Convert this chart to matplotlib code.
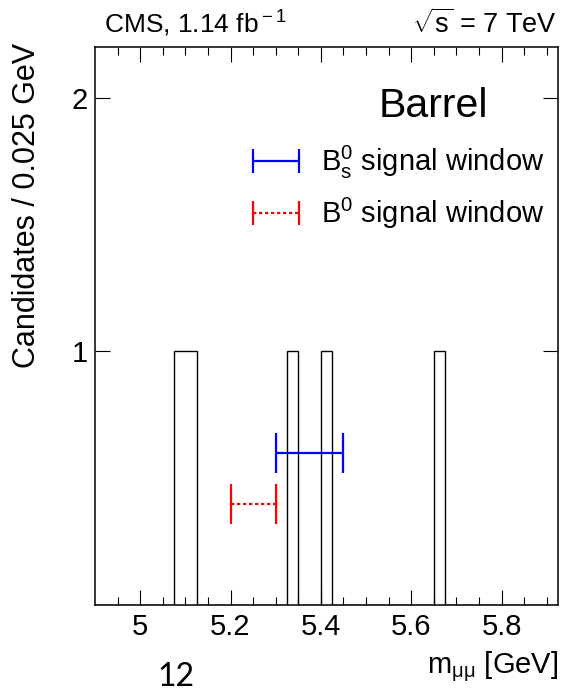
import numpy as np
import matplotlib
matplotlib.use("Agg")
import matplotlib.pyplot as plt
from matplotlib.legend_handler import HandlerErrorbar
from matplotlib.lines import Line2D

# 데이터: 후보 이벤트의 질량 (GeV), 0.025 GeV 간격
bin_lo, bin_hi, bin_w = 4.9, 5.925, 0.025
masses = [5.0875, 5.1125, 5.3375, 5.4125, 5.6625]

# 신호 창 (GeV)
bs_window = [5.30, 5.45]
bd_window = [5.20, 5.30]
bs_level = 0.6
bd_level = 0.4

x_major = [5.0, 5.2, 5.4, 5.6, 5.8]
x_labels = ["5", "5.2", "5.4", "5.6", "5.8"]
y_major = [1, 2]

plt.rcParams['font.family'] = ['Liberation Sans', 'DejaVu Sans']
plt.rcParams['mathtext.fontset'] = 'custom'
plt.rcParams['mathtext.rm'] = 'Liberation Sans'
plt.rcParams['mathtext.it'] = 'Liberation Sans:italic'
plt.rcParams['mathtext.bf'] = 'Liberation Sans:bold'


class CapHandler(HandlerErrorbar):
    # 범례의 캡 길이를 줄이기
    def create_artists(self, *args, **kwargs):
        artists = super().create_artists(*args, **kwargs)
        for a in artists:
            if isinstance(a, Line2D) and a.get_marker() == '|':
                a.set_markersize(17)
        return artists


fig = plt.figure(figsize=(5.65, 6.94), dpi=100)
ax = fig.add_axes([95 / 565, 1 - 605 / 694, 463 / 565, 558 / 694])

edges = np.arange(bin_lo, bin_hi + bin_w / 2, bin_w)
ax.hist(masses, bins=edges, histtype='step', color='black', linewidth=1.0)

# 신호 창 표시
bs = ax.errorbar([np.mean(bs_window)], [bs_level], xerr=[(bs_window[1] - bs_window[0]) / 2],
                 fmt='none', ecolor='blue', elinewidth=1.6, capsize=14.4, capthick=1.6)
bd = ax.errorbar([np.mean(bd_window)], [bd_level], xerr=[(bd_window[1] - bd_window[0]) / 2],
                 fmt='none', ecolor='red', elinewidth=1.6, capsize=14.4, capthick=1.6)
bd[2][0].set_linestyle((0, (1.5, 1.2)))

ax.set_xlim(bin_lo, bin_hi)
ax.set_ylim(0, 2.2)
ax.set_xticks(x_major)
ax.set_xticklabels(x_labels)
ax.set_xticks(np.arange(4.95, 5.925, 0.05), minor=True)
ax.set_yticks(y_major)
ax.tick_params(axis='both', which='both', direction='in', top=True, right=True,
               labelsize=21, width=0.8)
ax.tick_params(axis='x', which='major', length=11, pad=5.5)
ax.tick_params(axis='x', which='minor', length=5.5)
ax.tick_params(axis='y', which='major', length=10.5, pad=5)
for s in ax.spines.values():
    s.set_linewidth(1.1)

ax.set_ylabel("Candidates / 0.025 GeV", fontsize=22, loc='top')
ax.yaxis.set_label_coords(-0.115, 1.008)
ax.set_xlabel(r"m$_{\rm μμ}$ [GeV]", fontsize=21, loc='right')
ax.xaxis.set_label_coords(1.0, -0.08)

ax.text(0.02, 1.025, r"CMS, 1.14 fb$^{\rm -1}$", transform=ax.transAxes,
        fontsize=19, ha='left', va='baseline')
ax.text(0.997, 1.025, r"$\sqrt{\rm s}$ = 7 TeV", transform=ax.transAxes,
        fontsize=19.5, ha='right', va='baseline')
ax.text(0.73, 0.895, "Barrel", transform=ax.transAxes, fontsize=29.5,
        ha='center', va='center')

ax.legend([bs, bd], [r"B$^{0}_{\rm s}$ signal window", r"B$^{0}$ signal window"],
          loc='upper left', bbox_to_anchor=(0.337, 0.826), frameon=False,
          fontsize=21, handlelength=1.7, handletextpad=0.69, labelspacing=0.5,
          borderpad=0, borderaxespad=0,
          handler_map={type(bs): CapHandler(xerr_size=0.79)})

fig.text(176 / 565, 0.003, "12", fontsize=23, family=['Lato', 'DejaVu Sans'],
         ha='center', va='bottom')

fig.savefig("out.png", dpi=100)
